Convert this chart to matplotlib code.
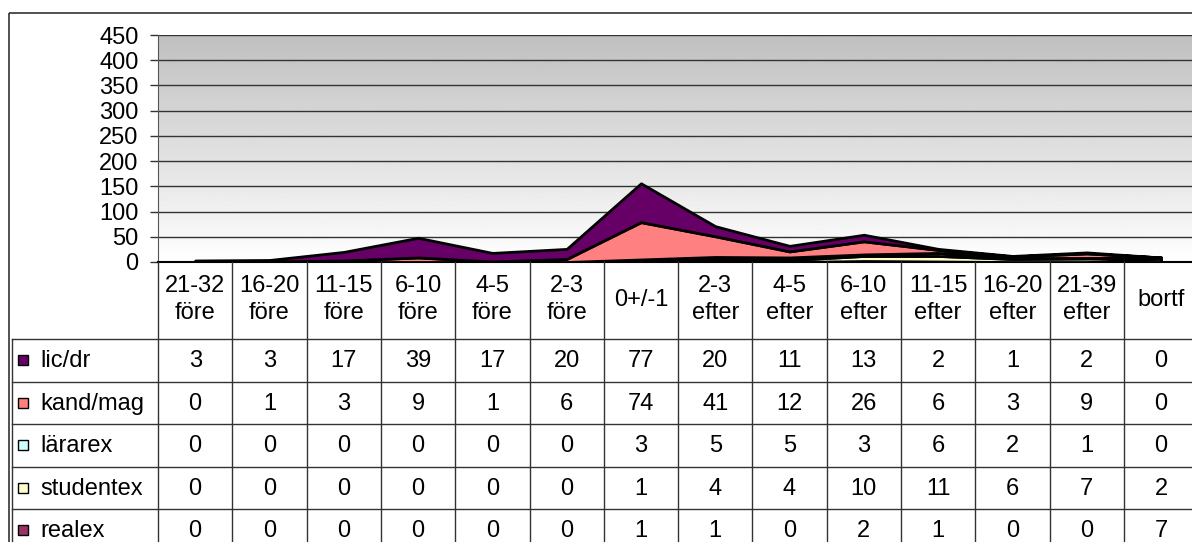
import numpy as np
import matplotlib.pyplot as plt
from matplotlib.patches import Rectangle

plt.rcParams['font.family'] = ['Liberation Sans', 'DejaVu Sans']

# data
categories = ['21-32\nföre', '16-20\nföre', '11-15\nföre', '6-10\nföre', '4-5\nföre', '2-3\nföre',
              '0+/-1', '2-3\nefter', '4-5\nefter', '6-10\nefter', '11-15\nefter', '16-20\nefter',
              '21-39\nefter', 'bortf']
lic_dr = [3, 3, 17, 39, 17, 20, 77, 20, 11, 13, 2, 1, 2, 0]
kand_mag = [0, 1, 3, 9, 1, 6, 74, 41, 12, 26, 6, 3, 9, 0]
lararex = [0, 0, 0, 0, 0, 0, 3, 5, 5, 3, 6, 2, 1, 0]
studentex = [0, 0, 0, 0, 0, 0, 1, 4, 4, 10, 11, 6, 7, 2]
realex = [0, 0, 0, 0, 0, 0, 1, 1, 0, 2, 1, 0, 0, 7]

names = ['lic/dr', 'kand/mag', 'lärarex', 'studentex', 'realex']
series = [lic_dr, kand_mag, lararex, studentex, realex]
colors = ['#660066', '#FF8080', '#CCFFFF', '#FFFFCC', '#993366']

W, H = 1192, 542
fs = 17
fig = plt.figure(figsize=(W / 100, H / 100), dpi=100)

# pixel layout
x0 = 158          # left of plot / table
colw = 74.3       # column width
y_top, y_zero = 35, 262
n = len(categories)

ax = fig.add_axes([x0 / W, 1 - y_zero / H, n * colw / W, (y_zero - y_top) / H])
x = np.arange(n)
# stack bottom -> top: realex, studentex, lararex, kand/mag, lic/dr
ax.stackplot(x, realex, studentex, lararex, kand_mag, lic_dr,
             colors=colors[::-1], edgecolor='black', linewidth=2, zorder=3)
ax.set_xlim(-0.5, n - 0.5)
ax.set_yticks(np.arange(0, 451, 50))
ax.set_xticks([])
ax.tick_params(axis='y', direction='out', length=6, width=1, labelsize=fs, pad=8, color='#333333')
ax.yaxis.grid(True, color='#333333', linewidth=1, zorder=1)
ax.set_axisbelow(True)
for s in ['top', 'right']:
    ax.spines[s].set_visible(False)
ax.spines['left'].set_color('#555555')
ax.spines['bottom'].set_color('black')
ax.spines['bottom'].set_linewidth(1.5)
# gradient background: white at bottom, gray at top
grad = np.linspace(1.0, 0.75, 256).reshape(-1, 1)
ax.imshow(grad, extent=(-0.5, n - 0.5, 0, 450), aspect='auto', cmap='gray',
          vmin=0, vmax=1, zorder=0, origin='lower')
ax.set_ylim(0, 450)

# table in pixel coordinates
at = fig.add_axes([0, 0, 1, 1])
at.set_xlim(0, W)
at.set_ylim(H, 0)
at.axis('off')
at.patch.set_alpha(0)

at.add_patch(Rectangle((9, 13), W, H, fill=False, edgecolor='#333333', linewidth=1.2))

y_head = 339
rowh = 42.5
line_c = '#333333'
# vertical lines
for k in range(n + 1):
    xv = x0 + k * colw
    at.plot([xv, xv], [y_zero, H + 5], color=line_c, linewidth=1)
at.plot([12, 12], [y_head, H + 5], color=line_c, linewidth=1)
# horizontal lines
for r in range(len(names) + 1):
    yh = y_head + r * rowh
    at.plot([12, x0 + n * colw], [yh, yh], color=line_c, linewidth=1)

for k, c in enumerate(categories):
    at.text(x0 + (k + 0.5) * colw, (y_zero + y_head) / 2 - 1, c, ha='center', va='center',
            fontsize=fs, linespacing=1.3)

for r, (nm, vals, col) in enumerate(zip(names, series, colors)):
    yc = y_head + (r + 0.5) * rowh
    at.add_patch(Rectangle((18, yc - 5), 10, 10, facecolor=col, edgecolor='black', linewidth=1))
    at.text(40, yc + 1, nm, ha='left', va='center', fontsize=fs)
    for k, v in enumerate(vals):
        at.text(x0 + (k + 0.5) * colw, yc + 1, str(v), ha='center', va='center', fontsize=fs)

fig.savefig('out.png', dpi=100)
